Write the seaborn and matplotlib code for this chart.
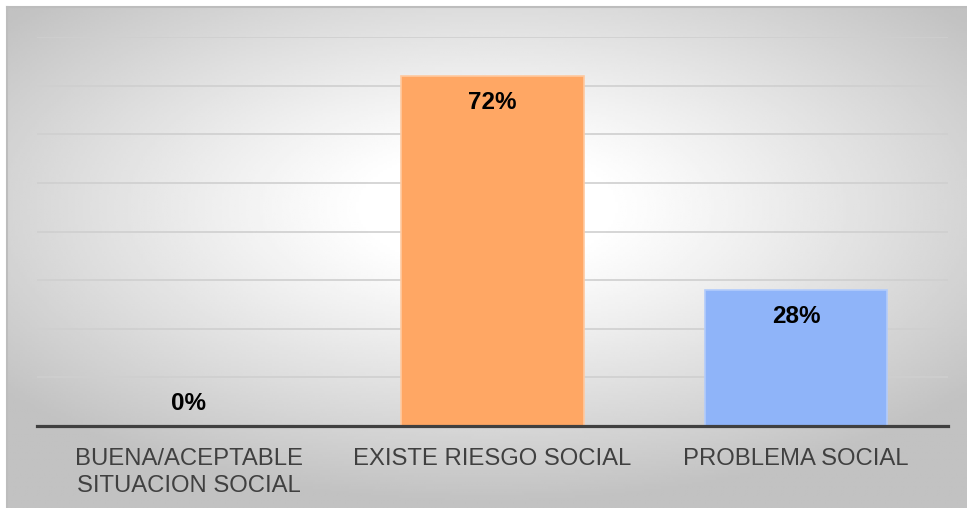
import matplotlib
matplotlib.use("Agg")
import matplotlib.pyplot as plt
import numpy as np
import pandas as pd
import seaborn as sns

# Chart data
categories = ["BUENA/ACEPTABLE\nSITUACION SOCIAL", "EXISTE RIESGO SOCIAL", "PROBLEMA SOCIAL"]
values = [0, 72, 28]
bar_colors = ["#FFA764", "#FFA764", "#8FB4F9"]
edge_colors = ["#FFC99F", "#FFC99F", "#B3CCFB"]
y_ticks = [0, 10, 20, 30, 40, 50, 60, 70, 80]

sns.set_theme(style="white")
plt.rcParams["font.family"] = ["Liberation Sans", "DejaVu Sans"]

fig = plt.figure(figsize=(9.67, 5.08), dpi=100)

# radial grey -> white background of the chart area
bg = fig.add_axes([7 / 967, 0, 960 / 967, 501 / 508], zorder=0)
gx, gy = np.meshgrid(np.linspace(-1, 1, 400), np.linspace(-1, 1, 220))
r = np.sqrt((gx + 0.0) ** 2 + ((gy + 0.2) * 1.1) ** 2)
r = np.clip((r - 0.25) / 1.05, 0, 1)
shade = 1 - 0.24 * r ** 1.1
bg.imshow(shade, cmap="gray", vmin=0, vmax=1, aspect="auto", extent=[0, 1, 0, 1])
bg.set_xticks([])
bg.set_yticks([])
for s in ("top", "left"):
    bg.spines[s].set_color("#BDBDBD")
    bg.spines[s].set_linewidth(1.5)
for s in ("bottom", "right"):
    bg.spines[s].set_visible(False)

ax = fig.add_axes([37 / 967, 82 / 508, 911 / 967, 389 / 508], zorder=1)
ax.patch.set_alpha(0)

df = pd.DataFrame({"categoria": categories, "valor": values})
sns.barplot(data=df, x="categoria", y="valor", hue="categoria",
            palette=bar_colors, legend=False, width=0.6, ax=ax, saturation=1)
for patch, ec in zip(ax.patches, edge_colors):
    patch.set_edgecolor(ec)
    patch.set_linewidth(1.2)
    patch.set_zorder(3)

for i, v in enumerate(values):
    off = -27 if v > 0 else 23
    ax.annotate(f"{v}%", xy=(i, v), xytext=(0, off), textcoords="offset pixels",
                ha="center", va="center", fontsize=17.5, fontweight="bold",
                color="black", zorder=4)

ax.set_ylim(0, 80)
ax.set_xlim(-0.5, 2.5)
ax.set_yticks(y_ticks)
ax.set_yticklabels([])
ax.yaxis.grid(True, color="#CFCFCF", linewidth=1.2)
ax.set_axisbelow(True)
ax.tick_params(axis="both", length=0)
ax.tick_params(axis="x", pad=15.5, labelsize=17.2, labelcolor="#404040")
for lbl in ax.get_xticklabels():
    lbl.set_linespacing(1.3)
ax.set_xlabel("")
ax.set_ylabel("")
for s in ("top", "left", "right"):
    ax.spines[s].set_visible(False)
ax.spines["bottom"].set_color("#404040")
ax.spines["bottom"].set_linewidth(2.3)
ax.spines["bottom"].set_zorder(5)

fig.savefig("out.png", dpi=100)
